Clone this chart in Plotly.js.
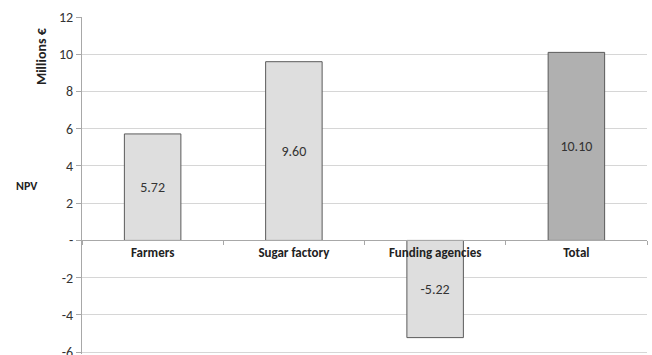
<!DOCTYPE html>
<html>
<head>
<meta charset="utf-8">
<script src="https://cdn.plot.ly/plotly-3.0.1.min.js"></script>
<style>html,body{margin:0;padding:0;background:#fff;}#chart{width:652px;height:355px;}</style>
</head>
<body>
<div id="chart"></div>
<script>
const categories = ["Farmers", "Sugar factory", "Funding agencies", "Total"];
const npvValues = [5.72, 9.60, -5.22, 10.10];
const yTickValues = [-6, -4, -2, 0, 2, 4, 6, 8, 10, 12];
const yTickLabels = ["-6", "-4", "-2", "-", "2", "4", "6", "8", "10", "12"];

const FONT = 'Carlito, "Liberation Sans Narrow", "DejaVu Sans Condensed", "Open Sans", sans-serif';
const Y_MIN = -6.1, Y_MAX = 12;

const trace = {
  type: 'bar',
  x: categories,
  y: npvValues,
  marker: {
    color: ['#dedede', '#dedede', '#dedede', '#b0b0b0'],
    line: {color: '#5a5a5a', width: 1}
  },
  texttemplate: '%{y:.2f}',
  textposition: 'inside',
  insidetextanchor: 'middle',
  textangle: 0,
  textfont: {family: FONT, size: 14, color: '#333'},
  hoverinfo: 'none'
};

const layout = {
  width: 652, height: 355,
  margin: {l: 82, r: 5, t: 17, b: 1},
  paper_bgcolor: '#fff', plot_bgcolor: '#fff',
  showlegend: false,
  bargap: 0.6,
  font: {family: FONT, size: 13, color: '#333'},
  xaxis: {
    type: 'category',
    anchor: 'free', position: (0 - Y_MIN) / (Y_MAX - Y_MIN),
    tickvals: categories,
    ticktext: categories.map(c => '<b>' + c + '</b>'),
    tickfont: {family: FONT, size: 13, color: '#222'},
    showline: true, linecolor: '#a8a8a8', linewidth: 1,
    ticks: 'outside', tickson: 'boundaries', ticklen: 4, tickcolor: '#a8a8a8',
    showgrid: false, zeroline: false, fixedrange: true
  },
  yaxis: {
    range: [Y_MIN, Y_MAX],
    tickvals: yTickValues, ticktext: yTickLabels,
    ticklabeloverflow: 'allow',
    tickfont: {family: FONT, size: 14, color: '#333'},
    showline: true, linecolor: '#a8a8a8', linewidth: 1,
    ticks: 'outside', ticklen: 5, tickcolor: '#a8a8a8',
    showgrid: true, gridcolor: '#d6d6d6', gridwidth: 1,
    zeroline: false, fixedrange: true
  },
  annotations: [
    {text: '<b>Millions €</b>', xref: 'paper', yref: 'paper', x: -0.072, y: 0.885,
     xanchor: 'center', yanchor: 'middle', textangle: -90, showarrow: false,
     font: {family: FONT, size: 14, color: '#222'}},
    {text: '<b>NPV</b>', xref: 'paper', yref: 'paper', x: -0.097, y: 0.50,
     xanchor: 'center', yanchor: 'middle', showarrow: false,
     font: {family: FONT, size: 12, color: '#222'}}
  ]
};

Plotly.newPlot('chart', [trace], layout, {displayModeBar: false, staticPlot: true});
</script>
</body>
</html>
